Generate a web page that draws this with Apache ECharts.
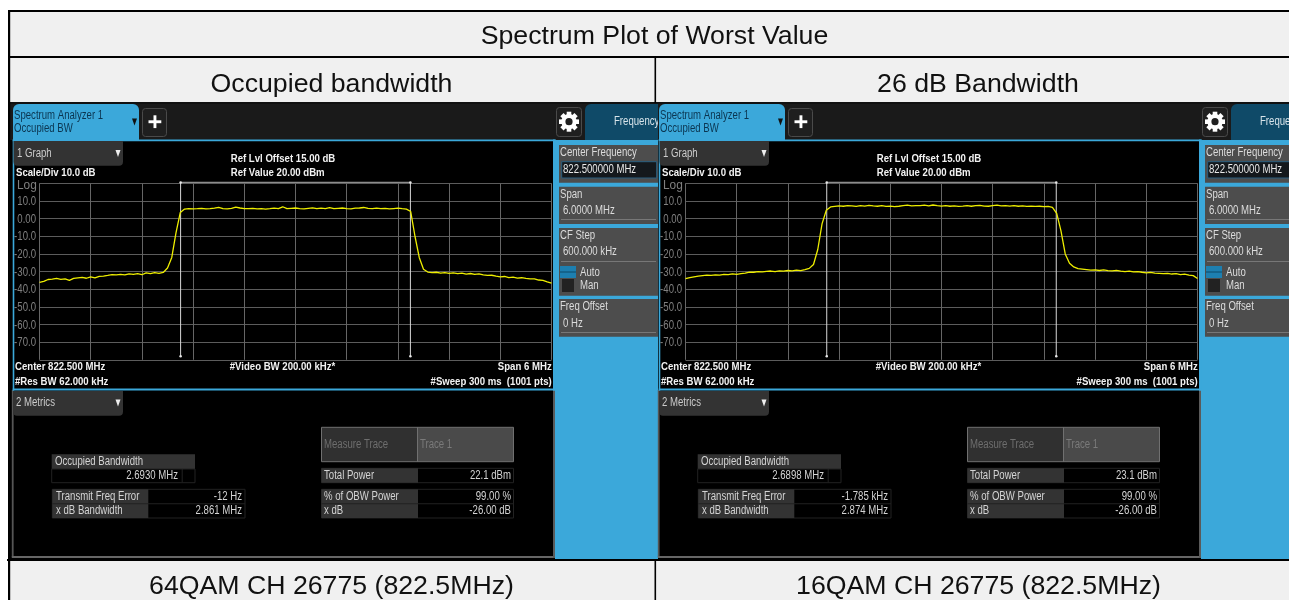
<!DOCTYPE html>
<html><head><meta charset="utf-8">
<style>html,body{margin:0;padding:0;background:#fff}#c{width:1289px;height:600px}</style>
<script src="https://cdn.jsdelivr.net/npm/echarts@6/dist/echarts.min.js"></script>
</head><body><div id="c"></div>
<script>
// ---------- table captions ----------
const tableTitle = 'Spectrum Plot of Worst Value';
const columnTitles = ['Occupied bandwidth', '26 dB Bandwidth'];
const rowCaptions = ['64QAM CH 26775 (822.5MHz)', '16QAM CH 26775 (822.5MHz)'];

// ---------- axis ----------
const yTickValues = [10,0,-10,-20,-30,-40,-50,-60,-70];
const yTickLabels = ['10.0','0.00','-10.0','-20.0','-30.0','-40.0','-50.0','-60.0','-70.0'];
const spanMHz = 6;
const sampleStepMHz = 0.05;

// ---------- traces (dB, one value each 0.05 MHz from -3 to +3 MHz) ----------
const trace64QAM = [
 -36.1,-35.6,-34.5,-34.3,-33.9,-34.4,-34.2,-35,-33.9,-33.6,-33.3,-33.8,-33,-33.6,-32.7,-32.6,-32.2,-31.7,-31.9,-31.6,
 -31.9,-31.3,-31.6,-31.2,-31.8,-30.8,-31.2,-30.6,-31,-30.5,-28,-22,-8,3.5,
 5.4,5.7,5.5,5.6,5.8,5.5,5.6,5.9,6.4,5.7,5.5,5.8,6.5,6,5.7,5.6,5.8,5.5,5.6,5.4,
 5.6,5.9,5.7,6.7,5.6,5.8,6,5.7,5.5,5.8,6.1,5.6,5.9,5.7,6.2,5.6,5.8,6,5.7,5.5,
 5.9,6,6.3,5.8,5.6,5.9,5.7,5.8,5.5,5.7,5.9,5.6,5.4,
 4,-10,-22,-28.7,-30.3,
 -30.6,-30.4,-30.9,-30.6,-31,-30.7,-31.2,-30.9,-31.4,-31.1,-31.6,-31.3,-31.9,-32.2,-32.1,-32.6,-33,-32.8,-33.4,-33.2,
 -33.7,-33.5,-33.9,-34.2,-34.1,-34.8,-35,-35.9,-36.6];
const trace16QAM = [
 -34,-33.4,-33,-32.6,-32.3,-32,-32.2,-31.9,-32,-31.6,-31.8,-31.3,-31.6,-31.2,-30.9,-30.3,-30.4,-30,-30.2,-29.9,
 -29.7,-30,-29.6,-29.8,-29.4,-29.6,-29.2,-29.5,-28.9,-28.2,-26,-17.5,-3,4.7,
 6.6,6.9,7.2,7,7.4,7.2,6.9,7.3,7.1,7.5,7.2,7,7.3,6.9,7.1,6.8,7,7.3,7.6,7.2,
 7.4,7.3,7.6,7.2,7.7,7.3,7.1,7.4,7,7.2,6.9,7.1,7.4,7,7.3,7.5,7.1,7,7.3,7.6,
 7.2,7.4,7.1,7.3,7,7.2,6.9,7.1,6.9,7,6.8,6.9,6.4,
 3,-7,-20,-25.3,-27.4,
 -28.3,-28.6,-28.9,-29.2,-29,-29.4,-29.1,-29.5,-29.6,-29.3,-29.8,-30,-29.7,-30.2,-30,-30.4,-30.7,-30.5,-30.9,-31,
 -31.2,-31,-31.4,-31.2,-31.7,-31.5,-32,-32.3,-33.9];
const obwMHz = [2.6930, 2.6898];
const bracketTopDb = 20.5;
const bracketBottomDb = -78;

// ---------- metric readouts ----------
const obwText = ['2.6930 MHz', '2.6898 MHz'];
const freqErrorText = ['-12 Hz', '-1.785 kHz'];
const xdbBwText = ['2.861 MHz', '2.874 MHz'];
const totalPowerText = ['22.1 dBm', '23.1 dBm'];
const obwPowerText = '99.00 %';
const xdbText = '-26.00 dB';

// ---------- drawing helpers ----------
const SX = 0.8, FF = '"Liberation Sans",Arial,sans-serif';
const BLUE = '#3ba8da', G = [];
function R(x,y,w,h,fill,o){o=o||{};G.push({type:'rect',silent:true,z:0,shape:{x,y,width:w,height:h,r:o.r||0},
  style:{fill,stroke:o.stroke||null,lineWidth:o.lw||(o.stroke?1:0)}});}
function T(x,y,text,o){o=o||{};G.push({type:'text',silent:true,z:0,x,y,scaleX:o.sx||SX,scaleY:1,
  style:{text,x:0,y:0,fill:o.fill||'#e2e2e2',fontFamily:FF,fontSize:o.size||12,fontWeight:o.bold?'bold':'normal',
  align:o.align||'left',textAlign:o.align||'left',verticalAlign:'middle',textVerticalAlign:'middle'}});}
function Tri(cx,cy,fill){G.push({type:'polygon',silent:true,z:0,shape:{points:[[cx-2.5,cy-3.5],[cx+2.5,cy-3.5],[cx,cy+3.5]]},style:{fill}});}
function Gear(cx,cy){
  G.push({type:'ring',silent:true,z:0,shape:{cx,cy,r:7.6,r0:3.6},style:{fill:'#fff'}});
  [0,1,2,3,4,5,6,7].forEach(k=>G.push({type:'rect',silent:true,z:0,x:cx,y:cy,rotation:k*Math.PI/4,
    shape:{x:-2.3,y:-10,width:4.6,height:4.5},style:{fill:'#fff'}}));
}

function screen(d,i){
  // body of the instrument screen
  const bodyLeft = i===0 ? d+2 : d+4;
  R(bodyLeft,104,649,456,'#000');
  R(bodyLeft,104,649,36,'#1a1a1a');
  R(d+3.8,390,1.8,167,'#555');
  R(d+3.8,556,549,2,'#666');
  R(d+545,390,2.5,168,'#5a5a5a');
  // blue right-hand panel
  R(d+547,140,104,419,BLUE);
  // frame of graph area
  R(d+4.7,139.5,543,1.8,BLUE);
  R(d+4.7,139.5,1.6,251,BLUE);
  R(d+545,139.5,2.5,251,BLUE);
  R(d+4.7,388.6,543,1.8,BLUE);
  // tabs
  R(d+5,104,126,36,BLUE,{r:[6,6,0,0]});
  T(d+6,116,'Spectrum Analyzer 1',{fill:'#0b3550'});
  T(d+6,129,'Occupied BW',{fill:'#0b3550'});
  Tri(d+126.5,122,'#111');
  R(d+134.5,108.5,24,28,'#1f1f1f',{r:3,stroke:'#4a4a4a'});
  R(d+140.5,120.3,12.8,2.9,'#fff'); R(d+145.5,115.3,2.9,12.8,'#fff');
  R(d+548.5,107.5,25,29,'#1f1f1f',{r:3,stroke:'#4a4a4a'});
  Gear(d+561,121.7);
  R(d+577,104,104,36,'#0f4a68',{r:[6,0,0,0]});
  T(d+606,122,'Frequency',{fill:'#d8e4ea'});
  // dropdowns
  R(d+5.5,141,109.5,24.7,'#333',{r:[0,0,4,4]});
  T(d+9,153.5,'1 Graph',{fill:'#ccc'}); Tri(d+110,153.5,'#eee');
  R(d+5,391,110,24.7,'#333',{r:[0,0,4,4]});
  T(d+8,403,'2 Metrics',{fill:'#ccc'}); Tri(d+110,403,'#eee');
  // annotations
  const W={fill:'#f2f2f2',bold:true,size:11.5,sx:0.835};
  T(d+8,172.7,'Scale/Div 10.0 dB',W);
  T(d+222.7,158.7,'Ref Lvl Offset 15.00 dB',W);
  T(d+222.7,172.7,'Ref Value 20.00 dBm',W);
  T(d+9,185.5,'Log',{fill:'#808080',size:12.5,sx:0.95});
  T(d+7,367.3,'Center 822.500 MHz',W);
  T(d+7,381.7,'#Res BW 62.000 kHz',W);
  T(d+221.7,367.3,'#Video BW 200.00 kHz*',W);
  T(d+543.7,367.3,'Span 6 MHz',{...W,align:'right'});
  T(d+543.7,381.7,'#Sweep 300 ms  (1001 pts)',{...W,align:'right'});
  // side panel
  const L={fill:'#dcdcdc'};
  R(d+551,145,99,37.7,'#4d4d4d');
  T(d+552,153,'Center Frequency',L);
  R(d+553.7,161.7,95,16.3,'#14181c',{stroke:'#2b5f80'});
  T(d+555,169.5,'822.500000 MHz',{fill:'#e8e8e8'});
  [[186.7,37.3,195,'Span','6.0000 MHz',211,219],[228,67.7,236,'CF Step','600.000 kHz',252,261],[299,37.7,307,'Freq Offset','0 Hz',324,332]].forEach(p=>{
    R(d+551,p[0],99,p[1],'#4d4d4d');
    T(d+552,p[2],p[3],L); T(d+555,p[5],p[4],L);
    R(d+553,p[6],95,1,'#777');
  });
  R(d+552,266,16,12,'#1d7fb0'); R(d+552,271.5,16,1,'#0d4a68');
  R(d+554,279,12,13,'#222');
  T(d+572,272.5,'Auto',L); T(d+572,285.5,'Man',L);
  // metric tables
  const H='#333', B='#222', M={fill:'#d4d4d4'};
  R(d+43.7,454.3,143.3,14.7,H);
  T(d+47,461.5,'Occupied Bandwidth',M);
  R(d+43.7,469,143.3,13.7,'#000',{stroke:B});
  R(d+173.7,469,1,13.7,B);
  T(d+170,475.7,obwText[i],{...M,align:'right'});
  R(d+44.3,489.3,192.7,28.7,'#000',{stroke:B});
  R(d+44.3,489.3,96,28.7,H);
  R(d+44.3,503.3,192.7,1,B);
  T(d+48,496.7,'Transmit Freq Error',M);
  T(d+48,510.7,'x dB Bandwidth',M);
  T(d+234,496.7,freqErrorText[i],{...M,align:'right'});
  T(d+234,510.7,xdbBwText[i],{...M,align:'right'});
  R(d+313.5,427.3,96,34.4,'#303030');
  R(d+409.5,427.3,96,34.4,'#4a4a4a');
  R(d+313.5,427.3,192,34.4,'transparent',{stroke:'#707070'});
  R(d+409,427.3,1,34.4,'#707070');
  T(d+316,444.7,'Measure Trace',{fill:'#6e6e6e'});
  T(d+412,444.7,'Trace 1',{fill:'#7a7a7a'});
  R(d+313.5,468.3,192,14.4,'#000',{stroke:B});
  R(d+313.5,468.3,96.5,14.4,H);
  T(d+316,475.3,'Total Power',M);
  T(d+503,475.3,totalPowerText[i],{...M,align:'right'});
  R(d+313.5,489.3,192,28.7,'#000',{stroke:B});
  R(d+313.5,489.3,96.5,28.7,H);
  R(d+313.5,503.3,192,1,B);
  T(d+316,496.7,'% of OBW Power',M);
  T(d+316,510.7,'x dB',M);
  T(d+503,496.7,obwPowerText,{...M,align:'right'});
  T(d+503,510.7,xdbText,{...M,align:'right'});
}

// table background
R(8,10,1281,93,'#f0f0f0');
R(8,560,1281,40,'#f0f0f0');
screen(8,0);
screen(654,1);
// table rules
R(8,10,1281,2,'#000'); R(8,56,1281,2,'#000'); R(8,102,1281,2,'#111'); R(7,559,1282,2,'#000');
R(8,10,2.2,590,'#000');
R(654.5,57,1.6,46,'#000'); R(654.5,560,1.6,40,'#000');
const big={sx:1,size:26.7,fill:'#111',align:'center'};
T(654.5,37,tableTitle,big);
T(331.5,84.5,columnTitles[0],big); T(978,84.5,columnTitles[1],big);
T(331.5,586.5,rowCaptions[0],big); T(978.5,586.5,rowCaptions[1],big);

// ---------- chart ----------
const offsets = trace64QAM.map((_,k)=>-spanMHz/2 + k*sampleStepMHz);
const pair = t => t.map((v,k)=>[offsets[k],v]);
const grids = [39.5,685.5].map(left=>({left,top:183.3,width:512,height:176.5,containLabel:false,show:false}));
const xAxes = grids.map((_,k)=>({type:'value',gridIndex:k,min:-spanMHz/2,max:spanMHz/2,interval:0.6,z:1,
  axisLabel:{show:false},axisTick:{show:false},axisLine:{show:false},splitLine:{show:true,lineStyle:{color:'#666',width:1}}}));
const yAxes = grids.map((_,k)=>({type:'value',gridIndex:k,min:-80,max:20,interval:10,z:1,
  axisTick:{show:false},axisLine:{show:false},splitLine:{show:true,lineStyle:{color:'#5c5c5c',width:1}},
  axisLabel:{show:false}}));
const series=[];
[trace64QAM,trace16QAM].forEach((t,k)=>{
  const h=obwMHz[k]/2;
  series.push({type:'line',xAxisIndex:k,yAxisIndex:k,z:3,clip:false,silent:true,showSymbol:false,animation:false,
    data:[[-h,bracketTopDb],[h,bracketTopDb]],lineStyle:{color:'#8c8c8c',width:1.4}});
  [-h,h].forEach(x=>series.push({type:'line',xAxisIndex:k,yAxisIndex:k,z:4,clip:false,silent:true,animation:false,
    data:[[x,bracketBottomDb],[x,bracketTopDb]],showSymbol:true,symbol:'circle',symbolSize:2.5,
    itemStyle:{color:'#e6e6e6'},lineStyle:{color:'#d8d8d8',width:1}}));
  series.push({type:'line',xAxisIndex:k,yAxisIndex:k,z:5,silent:true,showSymbol:false,animation:false,
    data:pair(t),lineStyle:{color:'#eeee00',width:1.3}});
});
const chart=echarts.init(document.getElementById('c'),null,{renderer:'canvas'});
chart.setOption({animation:false,backgroundColor:'#fff',tooltip:{show:false},legend:{show:false},
  grid:grids,xAxis:xAxes,yAxis:yAxes,series});
// condensed dB tick labels, placed through the axis scale
[36,682].forEach((right,k)=>yTickValues.forEach((v,n)=>{
  const py=chart.convertToPixel({yAxisIndex:k},v);
  T(right,py+0.7,yTickLabels[n],{fill:'#808080',align:'right',size:12,sx:0.8});
}));
chart.setOption({graphic:{elements:G}});
</script></body></html>
